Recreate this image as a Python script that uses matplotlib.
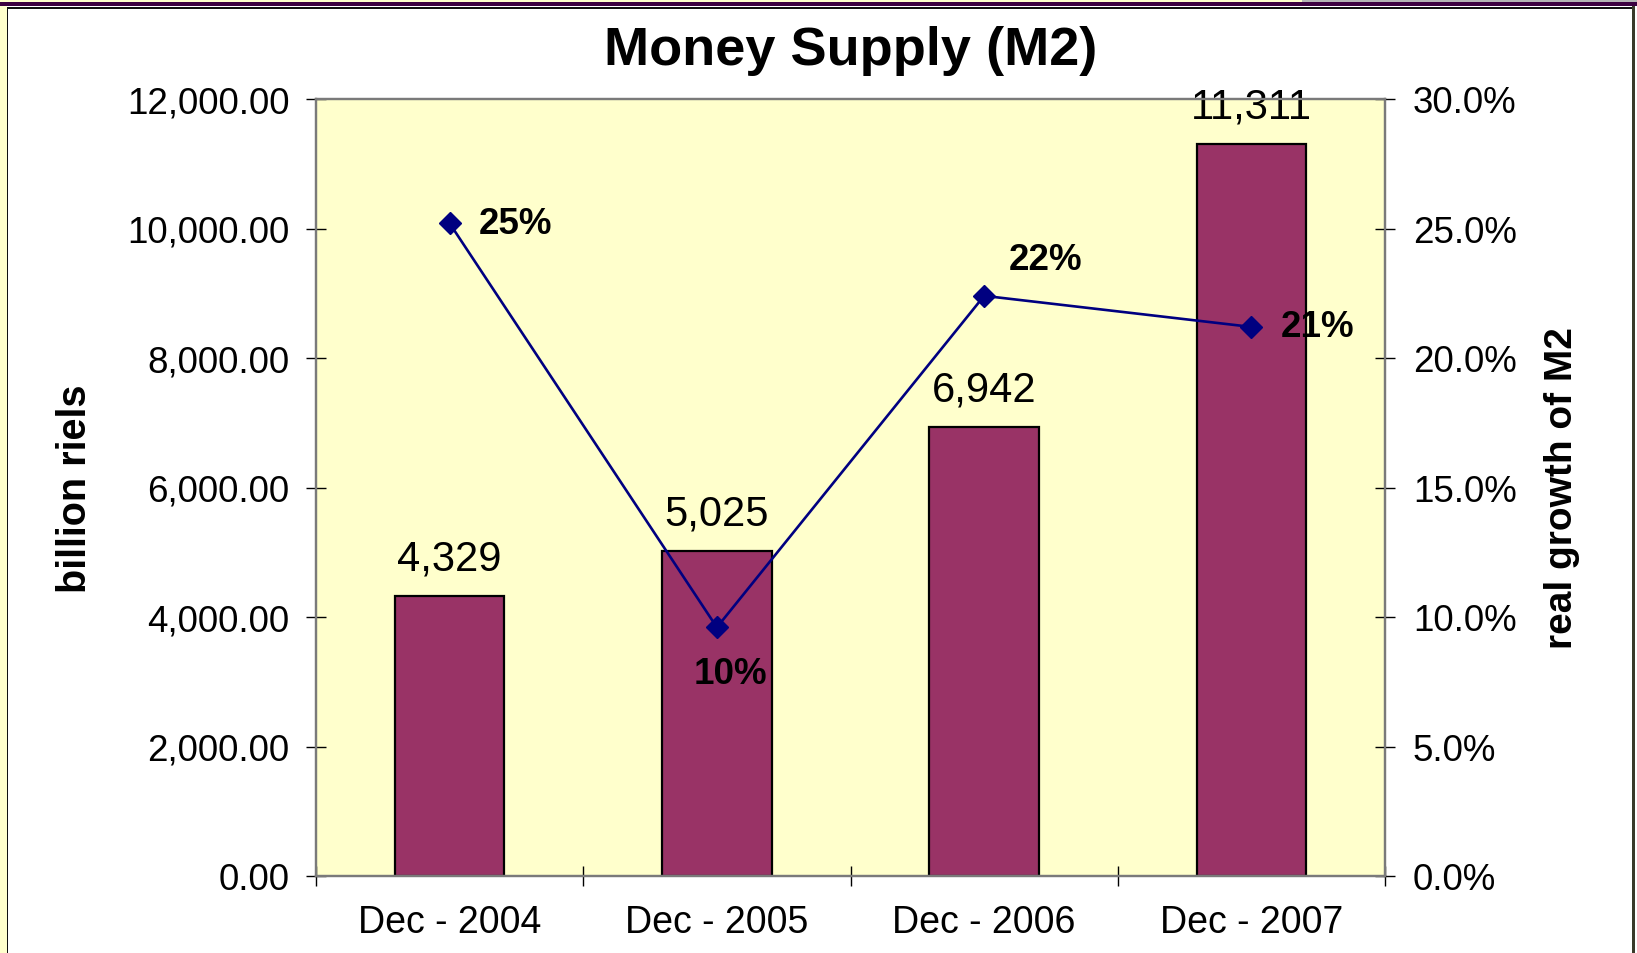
import matplotlib
matplotlib.use("Agg")
import matplotlib.pyplot as plt
from matplotlib.patches import Rectangle
from matplotlib.ticker import FuncFormatter, FixedLocator

# data
periods = ["Dec - 2004", "Dec - 2005", "Dec - 2006", "Dec - 2007"]
m2_billion_riels = [4329, 5025, 6942, 11311]
real_growth_pct = [25.2, 9.6, 22.4, 21.2]

plt.rcParams["font.family"] = ["Liberation Sans", "DejaVu Sans"]

W, H = 1637, 954
fig = plt.figure(figsize=(W / 100, H / 100), dpi=100)
fig.patch.set_facecolor("white")

# outer frame bits (slide border)
def px_rect(x0, y0, w, h, color, z=0):
    fig.patches.append(Rectangle((x0 / W, 1 - (y0 + h) / H), w / W, h / H,
                                 transform=fig.transFigure, facecolor=color,
                                 edgecolor="none", zorder=z))

px_rect(0, 0, W, 3, "#ffffcc")
px_rect(1302, 0, W - 1302, 3, "#b4b4b4")
px_rect(0, 3, W, 4, "#3c0040")
px_rect(0, 7, 7, H - 7, "#ffffcc")
px_rect(7, 8, 1.5, H - 8, "#111111")
px_rect(7, 8, 1625, 1.5, "#111111")
px_rect(1632, 7, 2.5, H - 7, "#3a3a2a")
px_rect(1634.5, 7, 3, H - 7, "#ffffff")

ax = fig.add_axes([316 / W, 1 - 877 / H, (1385 - 316) / W, (877 - 100) / H])
ax.set_facecolor("#ffffcc")

x = list(range(len(periods)))
bars = ax.bar(x, m2_billion_riels, width=0.41, color="#993366",
              edgecolor="black", linewidth=1.6, zorder=2)
for xi, v in zip(x, m2_billion_riels):
    ax.annotate(f"{v:,}", (xi, v), xytext=(0, 27), textcoords="offset points",
                ha="center", va="center", fontsize=30)

ax.set_xlim(-0.5, len(periods) - 0.5)
ax.set_ylim(0, 12000)
ax.set_yticks(range(0, 12001, 2000))
ax.yaxis.set_major_formatter(FuncFormatter(lambda v, p: f"{v:,.2f}"))
ax.set_xticks(x)
ax.set_xticklabels(periods)
ax.xaxis.set_minor_locator(FixedLocator([i - 0.5 for i in range(len(periods) + 1)]))
ax.tick_params(axis="x", which="major", length=0, pad=20, labelsize=27)
ax.tick_params(axis="x", which="minor", length=14, direction="inout", width=1)
ax.tick_params(axis="y", length=14, direction="inout", width=1, pad=12, labelsize=26.5)
ax.set_ylabel("billion riels", fontsize=28.5, fontweight="bold", labelpad=24)

for s in ax.spines.values():
    s.set_color("#7a7a7a")
    s.set_linewidth(1.6)

ax2 = ax.twinx()
ax2.set_ylim(0, 30)
ax2.set_yticks(range(0, 31, 5))
ax2.yaxis.set_major_formatter(FuncFormatter(lambda v, p: f"{v:.1f}%"))
ax2.tick_params(axis="y", length=14, direction="inout", width=1, pad=13, labelsize=26.5)
ax2.set_ylabel("real growth of M2", fontsize=28, fontweight="bold", labelpad=20)
for s in ax2.spines.values():
    s.set_color("#7a7a7a")
    s.set_linewidth(1.6)

ax2.plot(x, real_growth_pct, color="#000080", linewidth=1.9, marker="D",
         markersize=11, zorder=3)

# (dx, dy, ha) offsets in points for the growth labels
offsets = [(21, 0, "left"), (10, -33, "center"), (18, 26, "left"), (21, 0, "left")]
for xi, v, (dx, dy, ha) in zip(x, real_growth_pct, offsets):
    ax2.annotate(f"{v:.0f}%", (xi, v), xytext=(dx, dy), textcoords="offset points",
                 ha=ha, va="center", fontsize=26.5, fontweight="bold")

fig.text(850.5 / W, 1 - 51 / H, "Money Supply (M2)", ha="center", va="center",
         fontsize=39, fontweight="bold")

fig.savefig("out.png", dpi=100)
